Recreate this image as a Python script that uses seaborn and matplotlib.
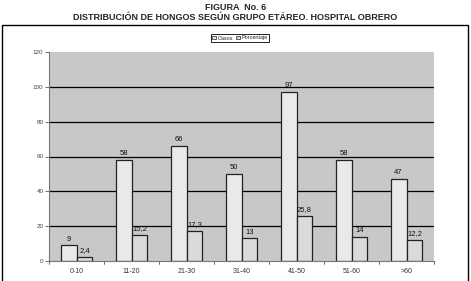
import matplotlib
matplotlib.use("Agg")
import matplotlib.pyplot as plt
import seaborn as sns
import pandas as pd
from matplotlib.patches import Rectangle

categorias = ["0-10", "11-20", "21-30", "31-40", "41-50", "51-60", ">60"]
casos = [9, 58, 66, 50, 97, 58, 47]
porcentaje = [2.4, 15.2, 17.3, 13, 25.8, 14, 12.2]
series = ["Casos", "Porcentaje"]
yticks = [0, 20, 40, 60, 80, 100, 120]

df = pd.DataFrame({
    "grupo": categorias * 2,
    "serie": [series[0]] * len(categorias) + [series[1]] * len(categorias),
    "valor": casos + porcentaje,
})

sns.set_theme(style="white")
plt.rcParams["font.family"] = ["Liberation Sans", "DejaVu Sans"]

fig = plt.figure(figsize=(4.71, 2.81), dpi=100)
ax = fig.add_axes([49/471, 1-261/281, (434-49)/471, (261-52)/281])

# chart border
fig.patches.append(Rectangle((2/471, -0.02), 466/471, 1-25/281+0.02, transform=fig.transFigure,
                             fill=False, edgecolor="black", linewidth=1.0))

sns.barplot(data=df, x="grupo", y="valor", hue="serie", order=categorias, hue_order=series,
            palette=["#e9e9e9", "#dadada"], width=0.58, edgecolor="#222222", linewidth=0.9,
            ax=ax, legend=False, saturation=1)

ax.set_facecolor("#c8c8c8")
ax.set_ylim(0, 120)
ax.set_xlim(-0.5, len(categorias)-0.5)
ax.set_yticks(yticks)
ax.set_yticklabels([str(t) for t in yticks], fontsize=4.5, color="#444444")
ax.set_xticks(range(len(categorias)))
ax.set_xticklabels(categorias, fontsize=5, color="#333333")
ax.tick_params(axis="x", length=0, pad=5)
ax.tick_params(axis="y", length=3, width=0.6, color="#555555", pad=1, left=True)
for b in [i + 0.5 for i in range(-1, len(categorias))]:
    ax.plot([b, b], [0, -2], color="#555555", lw=0.6, clip_on=False)
for t in yticks[1:-1]:
    ax.axhline(t, color="black", lw=0.9, zorder=0.5)
ax.set_axisbelow(True)
for s in ["top", "right"]:
    ax.spines[s].set_visible(False)
for s in ["left", "bottom"]:
    ax.spines[s].set_color("#777777")
    ax.spines[s].set_linewidth(0.8)
ax.set_xlabel("")
ax.set_ylabel("")

def fmt(v):
    return (f"{v:g}").replace(".", ",")

for cont, vals in zip(ax.containers, [casos, porcentaje]):
    ax.bar_label(cont, labels=[fmt(v) for v in vals], fontsize=5.5, padding=2, color="#111111")

fig.text(0.5, 1-7/281, "FIGURA  No. 6", ha="center", va="center", fontsize=6.5, fontweight="bold")
fig.text(0.5, 1-17/281, "DISTRIBUCIÓN DE HONGOS SEGÚN GRUPO ETÁREO. HOSPITAL OBRERO",
         ha="center", va="center", fontsize=6.5, fontweight="bold")

# legend
from matplotlib.patches import Patch
handles = [Patch(facecolor="#e9e9e9", edgecolor="#222222", linewidth=0.5),
           Patch(facecolor="#dadada", edgecolor="#222222", linewidth=0.5)]
fig.legend(handles, series, loc="center", bbox_to_anchor=(240/471, 1-38/281), ncol=2,
           fontsize=4, frameon=True, fancybox=False, edgecolor="black", handlelength=0.6,
           handleheight=0.6, handletextpad=0.3, columnspacing=0.6, borderpad=0.3,
           framealpha=1).get_frame().set_linewidth(0.6)

fig.savefig("out.png", dpi=100)
